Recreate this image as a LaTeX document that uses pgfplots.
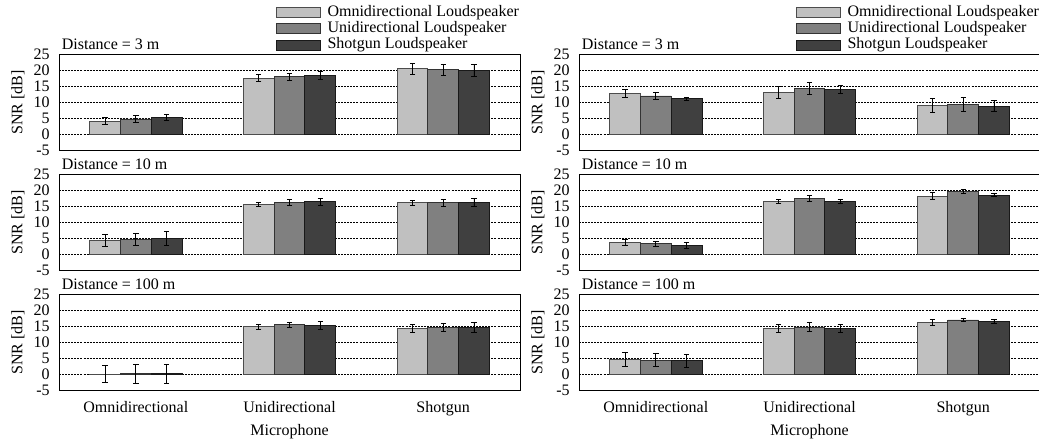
\documentclass[border=0pt]{standalone}
\usepackage{fontspec}
\setmainfont{Liberation Serif}
\usepackage{pgfplots}
\pgfplotsset{compat=1.18}

\definecolor{lsOmni}{RGB}{192,192,192}
\definecolor{lsUni}{RGB}{128,128,128}
\definecolor{lsShot}{RGB}{64,64,64}

\pgfplotsset{
  snr panel/.style={
    scale only axis, width=345.75pt, height=72pt, anchor=south west,
    font=\fontsize{12}{14}\selectfont,
    /pgf/number format/assume math mode=true,
    xmin=-0.5, xmax=2.5, ymin=-5, ymax=25,
    ytick={-5,0,5,10,15,20,25}, xtick={0,1,2}, xticklabels={},
    major tick length=0pt,
    yticklabel style={xshift=-3.5pt},
    ymajorgrids, grid style={dash pattern=on 1.5pt off 0.8pt, black, line width=0.5pt},
    axis line style={line width=0.7pt},
    ybar=0pt, bar width=0.2,
    ylabel={SNR [dB]},
    ylabel style={at={(axis description cs:-0.089,0.5)}, anchor=center},
    title style={at={(0,1)}, anchor=base west, inner sep=0pt, xshift=2pt, yshift=-2.5pt},
    every axis plot/.append style={
      line width=0.6pt,
      error bars/y dir=both, error bars/y explicit,
      error bars/error bar style={black, line width=0.6pt},
      error bars/error mark options={rotate=90, mark size=2pt, black, line width=0.6pt},
    },
  },
  bottom panel/.style={
    xticklabels={Omnidirectional,Unidirectional,Shotgun},
    xticklabel style={yshift=-5pt},
    xlabel={Microphone},
    xlabel style={at={(axis description cs:0.5,-0.43)}, anchor=center},
  },
  with legend/.style={
    legend cell align=left,
    legend style={draw=none, fill=none, inner sep=0pt, outer sep=0pt,
      at={(1,1)}, anchor=south east, xshift=-0.75pt, yshift=1pt,
      row sep=0pt,
      nodes={inner sep=0pt, text height=8.6pt, text depth=3.5pt},
      /tikz/every odd column/.append style={column sep=5pt}},
    legend image code/.code={\draw[#1] (0pt,-3.75pt) rectangle (33pt,3.75pt);},
  },
  bO/.style={fill=lsOmni, draw=black!70},
  bU/.style={fill=lsUni, draw=black!80},
  bS/.style={fill=lsShot, draw=black!90},
}

\begin{document}
\begin{tikzpicture}
\useasboundingbox (0,0) rectangle (779.25pt,330.75pt);

% ---- left column ----
\begin{axis}[snr panel, with legend, at={(44.25pt,218pt)}, title={Distance = 3 m}]
  \addplot[bO] coordinates {(0,4.15) +- (0,1.0) (1,17.6) +- (0,1.0) (2,20.5) +- (0,1.7)};
  \addlegendentry{Omnidirectional Loudspeaker}
  \addplot[bU] coordinates {(0,4.8) +- (0,1.0) (1,18.0) +- (0,1.1) (2,20.2) +- (0,1.75)};
  \addlegendentry{Unidirectional Loudspeaker}
  \addplot[bS] coordinates {(0,5.3) +- (0,1.0) (1,18.4) +- (0,1.3) (2,20.0) +- (0,1.9)};
  \addlegendentry{Shotgun Loudspeaker}
\end{axis}

\begin{axis}[snr panel, at={(44.25pt,128pt)}, title={Distance = 10 m}]
  \addplot[bO] coordinates {(0,4.35) +- (0,1.8) (1,15.55) +- (0,0.7) (2,16.1) +- (0,0.85)};
  \addplot[bU] coordinates {(0,4.65) +- (0,2.0) (1,16.2) +- (0,0.9) (2,16.1) +- (0,1.0)};
  \addplot[bS] coordinates {(0,4.9) +- (0,2.2) (1,16.4) +- (0,1.15) (2,16.2) +- (0,1.15)};
\end{axis}

\begin{axis}[snr panel, bottom panel, at={(44.25pt,38pt)}, title={Distance = 100 m}]
  \addplot[bO] coordinates {(0,0.05) +- (0,2.7) (1,14.9) +- (0,0.8) (2,14.3) +- (0,1.2)};
  \addplot[bU] coordinates {(0,0.15) +- (0,2.85) (1,15.45) +- (0,0.85) (2,14.6) +- (0,1.25)};
  \addplot[bS] coordinates {(0,0.25) +- (0,2.95) (1,15.25) +- (0,1.2) (2,14.6) +- (0,1.5)};
\end{axis}

% ---- right column ----
\begin{axis}[snr panel, with legend, at={(434.25pt,218pt)}, title={Distance = 3 m}]
  \addplot[bO] coordinates {(0,12.75) +- (0,1.2) (1,13.2) +- (0,1.9) (2,9.0) +- (0,2.3)};
  \addlegendentry{Omnidirectional Loudspeaker}
  \addplot[bU] coordinates {(0,12.0) +- (0,1.0) (1,14.3) +- (0,1.9) (2,9.3) +- (0,2.1)};
  \addlegendentry{Unidirectional Loudspeaker}
  \addplot[bS] coordinates {(0,11.1) +- (0,0.4) (1,14.1) +- (0,1.25) (2,8.8) +- (0,1.65)};
  \addlegendentry{Shotgun Loudspeaker}
\end{axis}

\begin{axis}[snr panel, at={(434.25pt,128pt)}, title={Distance = 10 m}]
  \addplot[bO] coordinates {(0,3.75) +- (0,1.0) (1,16.5) +- (0,0.7) (2,18.15) +- (0,1.1)};
  \addplot[bU] coordinates {(0,3.3) +- (0,0.8) (1,17.5) +- (0,1.0) (2,19.7) +- (0,0.7)};
  \addplot[bS] coordinates {(0,2.8) +- (0,0.8) (1,16.5) +- (0,0.7) (2,18.5) +- (0,0.55)};
\end{axis}

\begin{axis}[snr panel, bottom panel, at={(434.25pt,38pt)}, title={Distance = 100 m}]
  \addplot[bO] coordinates {(0,4.65) +- (0,2.1) (1,14.3) +- (0,1.15) (2,16.2) +- (0,0.85)};
  \addplot[bU] coordinates {(0,4.45) +- (0,2.1) (1,14.8) +- (0,1.3) (2,17.0) +- (0,0.5)};
  \addplot[bS] coordinates {(0,4.25) +- (0,2.1) (1,14.4) +- (0,1.2) (2,16.5) +- (0,0.6)};
\end{axis}
\end{tikzpicture}
\end{document}
